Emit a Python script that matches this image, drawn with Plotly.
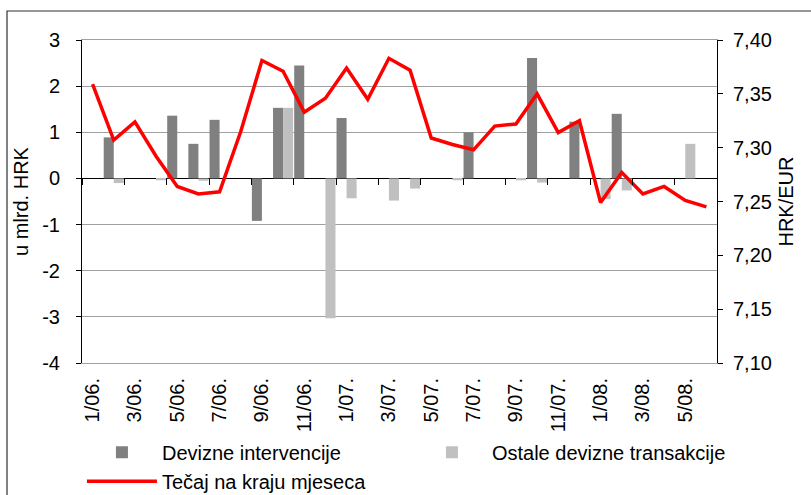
import plotly.graph_objects as go

months = ["1/06.", "2/06.", "3/06.", "4/06.", "5/06.", "6/06.", "7/06.", "8/06.", "9/06.", "10/06.",
          "11/06.", "12/06.", "1/07.", "2/07.", "3/07.", "4/07.", "5/07.", "6/07.", "7/07.", "8/07.",
          "9/07.", "10/07.", "11/07.", "12/07.", "1/08.", "2/08.", "3/08.", "4/08.", "5/08.", "6/08."]

devizne_intervencije = [0, 0.89, 0, 0, 1.36, 0.75, 1.27, 0, -0.92, 1.53,
                        2.45, 0, 1.31, 0, 0, 0, 0, 0, 1.00, 0,
                        0, 2.61, 0, 1.23, 0, 1.40, 0, 0, 0, 0]

ostale_transakcije = [0, -0.10, 0, -0.04, 0, -0.05, 0, 0, 0, 1.53,
                      0, -3.03, -0.43, 0, -0.48, -0.22, 0, -0.04, 0, 0,
                      -0.04, -0.09, 0, 0, -0.45, -0.26, 0, 0, 0.75, 0]

tecaj = [7.359, 7.307, 7.324, 7.292, 7.264, 7.257, 7.259, 7.315, 7.381, 7.371,
         7.333, 7.346, 7.374, 7.345, 7.383, 7.372, 7.309, 7.303, 7.298, 7.320,
         7.322, 7.350, 7.314, 7.325, 7.249, 7.277, 7.257, 7.264, 7.251, 7.245]

left_ticks = [-4, -3, -2, -1, 0, 1, 2, 3]
right_ticks = [7.10, 7.15, 7.20, 7.25, 7.30, 7.35, 7.40]
right_ticktext = ["7,10", "7,15", "7,20", "7,25", "7,30", "7,35", "7,40"]

FONT = "Liberation Sans, Arial, sans-serif"
W, H = 811, 495
ML, MR, MT, MB = 82, 94, 40, 132
PW, PH = W - ML - MR, H - MT - MB

fig = go.Figure()
fig.add_trace(go.Bar(x=months, y=devizne_intervencije, name="Devizne intervencije",
                     marker=dict(color="#808080", line=dict(width=0))))
fig.add_trace(go.Bar(x=months, y=ostale_transakcije, name="Ostale devizne transakcije",
                     marker=dict(color="#c0c0c0", line=dict(width=0))))
fig.add_trace(go.Scatter(x=months, y=tecaj, name="Tečaj na kraju mjeseca", yaxis="y2",
                         mode="lines", line=dict(color="#ff0000", width=3.5)))
# helper trace for the category tick marks on the zero line
fig.add_trace(go.Scatter(x=months, y=[None] * len(months), xaxis="x2", yaxis="y",
                         showlegend=False, hoverinfo="skip", mode="lines"))

zero_pos = (0 - (-4)) / 7.0

fig.update_layout(
    width=W, height=H,
    margin=dict(l=ML, r=MR, t=MT, b=MB, autoexpand=False),
    paper_bgcolor="white", plot_bgcolor="white",
    font=dict(family=FONT, size=20, color="black"),
    barmode="group", bargap=0.05, bargroupgap=0,
    showlegend=True,
    legend=dict(orientation="h", x=-0.0001, xanchor="left", y=-0.216, yanchor="top",
                font=dict(size=20), itemwidth=70, entrywidth=245, entrywidthmode="pixels",
                bgcolor="rgba(0,0,0,0)", traceorder="normal", tracegroupgap=0),
    xaxis=dict(type="category", categoryorder="array", categoryarray=months,
               tickmode="array", tickvals=months[::2], ticktext=months[::2],
               tickangle=-90, ticks="", showgrid=False, automargin=False,
               showline=True, linecolor="#a0a0a0", linewidth=1, mirror=True,
               tickfont=dict(size=20), ticklabelstandoff=6),
    xaxis2=dict(type="category", categoryorder="array", categoryarray=months,
                overlaying="x", matches="x", anchor="free", position=zero_pos,
                tickson="boundaries", tickmode="linear", tick0=0, dtick=2,
                ticks="outside", ticklen=6, tickcolor="black", tickwidth=1,
                showticklabels=False, showgrid=False, showline=False, automargin=False),
    yaxis=dict(range=[-4, 3], tickvals=left_ticks, ticktext=[str(v) for v in left_ticks],
               showgrid=True, gridcolor="#a0a0a0", gridwidth=1, automargin=False,
               zeroline=True, zerolinecolor="black", zerolinewidth=1,
               showline=True, linecolor="black", linewidth=1,
               ticks="outside", ticklen=5, tickcolor="black",
               ticklabelstandoff=12,
               title=dict(text="u mlrd. HRK", font=dict(size=20), standoff=8)),
    yaxis2=dict(range=[7.10, 7.40], overlaying="y", side="right", anchor="x",
                tickvals=right_ticks, ticktext=right_ticktext, automargin=False,
                showgrid=False, zeroline=False,
                showline=True, linecolor="black", linewidth=1,
                ticks="outside", ticklen=5, tickcolor="black",
                ticklabelstandoff=6,
                title=dict(text="HRK/EUR", font=dict(size=20), standoff=8)),
)

# outer chart frame (clipped at right and bottom in the reference)
fig.add_shape(type="rect", xref="paper", yref="paper",
              x0=(7 - ML) / PW, x1=(W + 10 - ML) / PW,
              y0=(PH - (H + 10 - MT)) / PH, y1=(PH - (11 - MT)) / PH,
              line=dict(color="#303030", width=1.2), fillcolor="rgba(0,0,0,0)", layer="below")

fig.write_html("out.html",
               config={"displayModeBar": False},
               post_script="document.body.style.margin='0';document.body.style.padding='0';")
